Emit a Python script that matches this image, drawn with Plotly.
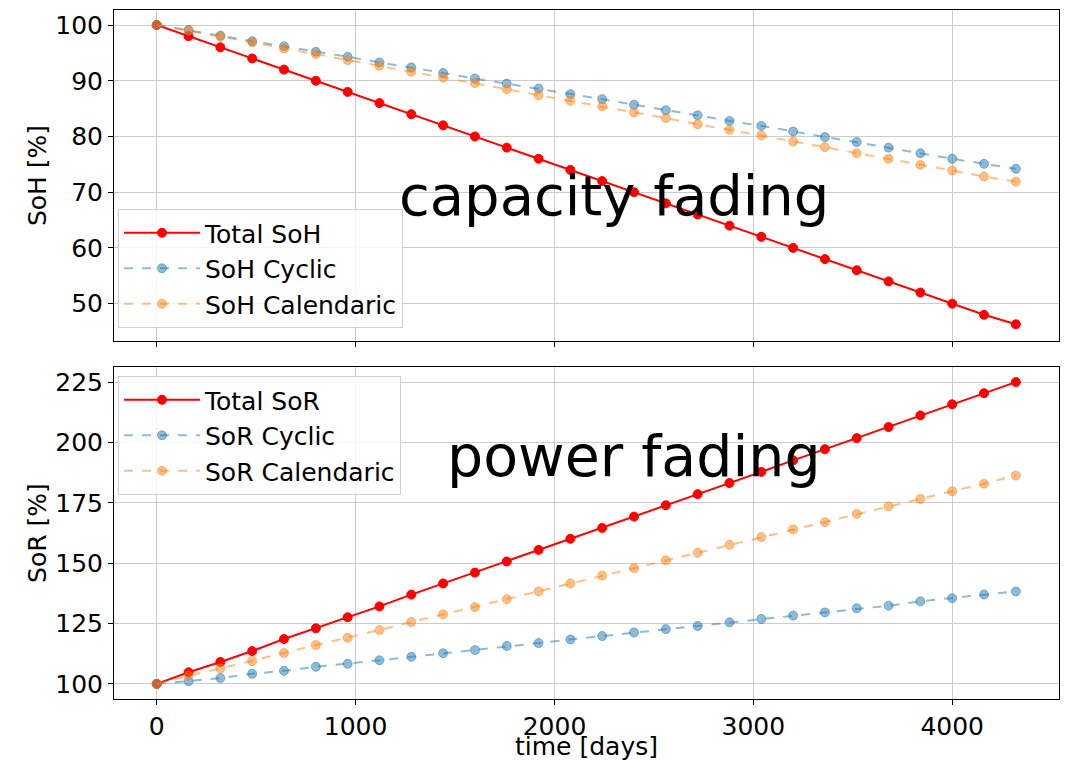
import plotly.graph_objects as go

# ---- data ----
time_days = [0, 160, 320, 480, 640, 800, 960, 1120, 1280, 1440, 1600, 1760, 1920, 2080,
             2240, 2400, 2560, 2720, 2880, 3040, 3200, 3360, 3520, 3680, 3840, 4000, 4160, 4320]

soh_total = [100, 98, 96, 94, 92, 90, 88, 86, 84, 82, 80, 78, 76, 74,
             72, 70, 68, 66, 64, 62, 60, 58, 56, 54, 52, 50, 48, 46.3]
soh_cyclic = [100.0, 99.1, 98.1, 97.1, 96.2, 95.2, 94.3, 93.3, 92.4, 91.4, 90.4, 89.5, 88.6, 87.6,
              86.7, 85.7, 84.7, 83.8, 82.8, 81.9, 80.9, 79.9, 79.0, 78.0, 77.0, 76.0, 75.1, 74.2]
soh_calendaric = [100.0, 99.0, 97.9, 96.9, 95.8, 94.8, 93.7, 92.7, 91.6, 90.6, 89.6, 88.5, 87.4, 86.4,
                  85.4, 84.3, 83.3, 82.2, 81.2, 80.2, 79.1, 78.1, 77.0, 76.0, 74.9, 73.9, 72.8, 71.9]

sor_total = [100.0, 104.8, 109.1, 113.6, 118.6, 123.0, 127.6, 132.1, 137.0, 141.6, 146.1, 150.7, 155.5, 160.1,
             164.6, 169.3, 174.0, 178.6, 183.2, 187.8, 192.6, 197.2, 201.8, 206.4, 211.2, 215.8, 220.4, 225.0]
sor_cyclic = [100.0, 101.1, 102.4, 104.2, 105.4, 107.1, 108.3, 109.8, 111.2, 112.7, 114.0, 115.7, 116.9, 118.4,
              119.8, 121.3, 122.7, 124.0, 125.5, 126.9, 128.3, 129.6, 131.3, 132.4, 134.2, 135.5, 137.0, 138.3]
sor_calendaric = [100.0, 103.4, 106.4, 109.5, 112.8, 116.1, 119.1, 122.3, 125.6, 128.8, 131.8, 135.1, 138.3, 141.6,
                  144.9, 148.0, 151.2, 154.3, 157.6, 160.8, 164.0, 167.0, 170.4, 173.5, 176.6, 179.8, 182.9, 186.3]

soh_ticks = [50, 60, 70, 80, 90, 100]
sor_ticks = [100, 125, 150, 175, 200, 225]
x_ticks = [0, 1000, 2000, 3000, 4000]

RED = "rgb(255,0,0)"
BLUE_A = "rgba(31,119,180,0.5)"
ORANGE_A = "rgba(255,127,14,0.5)"
FONT = "DejaVu Sans"
FS = 25

W, H = 1067, 761

fig = go.Figure()


def add(x, y, name, color, dash, xa, ya, legend, grp):
    fig.add_trace(go.Scatter(
        x=x, y=y, name=name, mode="lines+markers",
        line=dict(color=color, width=2, dash=dash),
        marker=dict(color=color, size=9, line=dict(color=color, width=1)),
        xaxis=xa, yaxis=ya, legend=legend, legendgroup=grp,
    ))


add(time_days, soh_total, "Total SoH", RED, "solid", "x", "y", "legend", "a")
add(time_days, soh_cyclic, "SoH Cyclic", BLUE_A, "dash", "x", "y", "legend", "b")
add(time_days, soh_calendaric, "SoH Calendaric", ORANGE_A, "dash", "x", "y", "legend", "c")
add(time_days, sor_total, "Total SoR", RED, "solid", "x2", "y2", "legend2", "d")
add(time_days, sor_cyclic, "SoR Cyclic", BLUE_A, "dash", "x2", "y2", "legend2", "e")
add(time_days, sor_calendaric, "SoR Calendaric", ORANGE_A, "dash", "x2", "y2", "legend2", "f")

x_dom = [114 / W, 1059 / W]
top_dom = [1 - 341 / H, 1 - 10 / H]
bot_dom = [1 - 699 / H, 1 - 367 / H]

axis_common = dict(
    showline=True, mirror=True, linecolor="black", linewidth=1,
    ticks="outside", ticklen=5, tickwidth=1, tickcolor="black",
    showgrid=True, gridcolor="#cccccc", gridwidth=1, zeroline=False,
    tickfont=dict(family=FONT, size=FS, color="black"), automargin=False,
)

legend_common = dict(
    bgcolor="rgba(255,255,255,0.8)", bordercolor="#d0d0d0", borderwidth=1,
    font=dict(family=FONT, size=FS, color="black"),
    xanchor="left", yanchor="top", tracegroupgap=0, itemwidth=76,
)

fig.update_layout(
    width=W, height=H,
    margin=dict(l=0, r=0, t=0, b=0, autoexpand=False),
    paper_bgcolor="white", plot_bgcolor="white",
    font=dict(family=FONT, size=FS, color="black"),
    xaxis=dict(domain=x_dom, range=[-215, 4537], anchor="y", tickvals=x_ticks,
               showticklabels=False, matches="x2", **axis_common),
    yaxis=dict(domain=top_dom, range=[43.3, 102.7], anchor="x", tickvals=soh_ticks,
               title=dict(text="SoH [%]", font=dict(family=FONT, size=FS), standoff=1),
               **axis_common),
    xaxis2=dict(domain=x_dom, range=[-215, 4537], anchor="y2", tickvals=x_ticks,
                title=dict(text="time [days]", font=dict(family=FONT, size=FS), standoff=6),
                **axis_common),
    yaxis2=dict(domain=bot_dom, range=[93.75, 231.25], anchor="x2", tickvals=sor_ticks,
                title=dict(text="SoR [%]", font=dict(family=FONT, size=FS), standoff=1),
                **axis_common),
    legend=dict(x=118 / W, y=1 - 209 / H, **legend_common),
    legend2=dict(x=118 / W, y=1 - 376 / H, **legend_common),
    annotations=[
        dict(text="capacity fading", x=2300, y=69.5, xref="x", yref="y",
             showarrow=False, font=dict(family=FONT, size=56, color="black"),
             xanchor="center", yanchor="middle"),
        dict(text="power fading", x=2400, y=194.5, xref="x2", yref="y2",
             showarrow=False, font=dict(family=FONT, size=57, color="black"),
             xanchor="center", yanchor="middle"),
    ],
)

fig.write_html("out.html")
